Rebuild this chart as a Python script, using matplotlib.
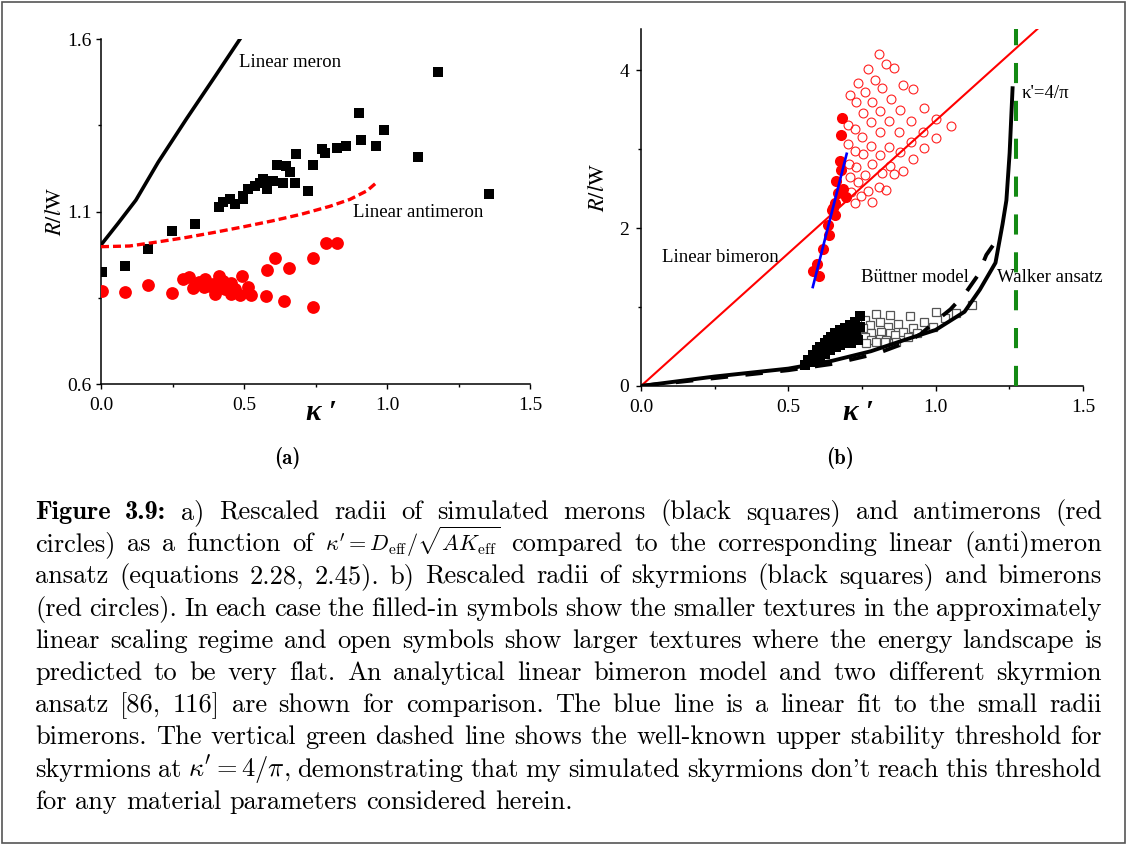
import matplotlib
matplotlib.use("Agg")
import matplotlib.pyplot as plt
from matplotlib.patches import Rectangle
from matplotlib.ticker import MultipleLocator, FixedLocator

plt.rcParams['font.family'] = ['Liberation Serif', 'DejaVu Serif']

W, H = 1126, 844

# ---- (a) merons (black squares) and antimerons (red circles) ----
meron_k = [0.002, 0.084, 0.165, 0.249, 0.329, 0.413, 0.426, 0.451, 0.469, 0.498,
           0.498, 0.515, 0.538, 0.556, 0.567, 0.579, 0.602, 0.616, 0.637, 0.647,
           0.661, 0.678, 0.681, 0.725, 0.742, 0.772, 0.783, 0.824, 0.857, 0.903,
           0.908, 0.960, 0.991, 1.107, 1.179, 1.357]
meron_r = [0.924, 0.943, 0.992, 1.043, 1.064, 1.114, 1.127, 1.135, 1.123, 1.144,
           1.135, 1.166, 1.173, 1.183, 1.195, 1.164, 1.188, 1.236, 1.183, 1.231,
           1.214, 1.183, 1.268, 1.159, 1.235, 1.282, 1.270, 1.285, 1.289, 1.386,
           1.306, 1.291, 1.335, 1.259, 1.504, 1.152]

antimeron_k = [0.005, 0.084, 0.165, 0.249, 0.286, 0.308, 0.323, 0.343, 0.364, 0.381,
               0.405, 0.414, 0.428, 0.434, 0.453, 0.453, 0.486, 0.494, 0.515, 0.523,
               0.576, 0.579, 0.608, 0.641, 0.658, 0.742, 0.740, 0.786, 0.824,
               0.360, 0.392, 0.420, 0.470, 0.398]
antimeron_r = [0.869, 0.868, 0.888, 0.864, 0.903, 0.910, 0.879, 0.895, 0.903, 0.883,
               0.874, 0.914, 0.898, 0.874, 0.893, 0.862, 0.859, 0.912, 0.882, 0.859,
               0.854, 0.929, 0.966, 0.842, 0.935, 0.966, 0.823, 1.009, 1.009,
               0.880, 0.890, 0.885, 0.875, 0.862]

lin_meron_k = [0.0, 0.06, 0.122, 0.2, 0.3, 0.4, 0.486]
lin_meron_r = [1.003, 1.066, 1.133, 1.243, 1.37, 1.493, 1.6]

lin_antimeron_k = [0.0, 0.1, 0.2, 0.3, 0.4, 0.5, 0.6, 0.7, 0.8, 0.87, 0.93, 0.965]
lin_antimeron_r = [0.998, 1.0, 1.012, 1.025, 1.04, 1.056, 1.073, 1.092, 1.115, 1.135, 1.16, 1.185]

a_yticks = [0.6, 1.1, 1.6]
a_yminor = [0.85, 1.35]

# ---- (b) skyrmions (squares) and bimerons (circles) ----
sk_small_k = [0.567, 0.584, 0.596, 0.607, 0.624, 0.635, 0.646, 0.658, 0.675, 0.692,
              0.708, 0.725, 0.742, 0.556, 0.579, 0.607, 0.624, 0.641, 0.635, 0.663,
              0.658, 0.680, 0.692, 0.714, 0.708, 0.731, 0.725, 0.742, 0.737, 0.714,
              0.697, 0.675]
sk_small_r = [0.33, 0.39, 0.46, 0.50, 0.54, 0.58, 0.62, 0.67, 0.71, 0.74,
              0.77, 0.81, 0.88, 0.27, 0.31, 0.37, 0.41, 0.46, 0.50, 0.50,
              0.56, 0.58, 0.63, 0.62, 0.69, 0.67, 0.73, 0.75, 0.58, 0.55,
              0.54, 0.52]

sk_large_k = [0.797, 0.846, 0.914, 1.002, 1.070, 0.759, 0.776, 0.810, 0.838, 0.872,
              0.923, 0.959, 0.991, 0.754, 0.782, 0.816, 0.844, 0.889, 0.935, 0.759,
              0.782, 0.810, 0.833, 0.861, 0.906, 0.765, 0.799, 0.827, 0.867, 1.031,
              1.124]
sk_large_r = [0.91, 0.90, 0.88, 0.94, 0.92, 0.84, 0.77, 0.81, 0.75, 0.78,
              0.74, 0.81, 0.75, 0.73, 0.67, 0.69, 0.67, 0.69, 0.67, 0.62,
              0.58, 0.60, 0.58, 0.65, 0.62, 0.54, 0.56, 0.56, 0.56, 0.86,
              1.03]

bim_small_k = [0.683, 0.678, 0.677, 0.680, 0.661, 0.686, 0.697, 0.658, 0.652, 0.648,
               0.658, 0.635, 0.638, 0.618, 0.596, 0.584, 0.604, 0.669]
bim_small_r = [3.39, 3.18, 2.85, 2.73, 2.59, 2.49, 2.39, 2.32, 2.25, 2.23,
               2.16, 2.04, 1.91, 1.73, 1.55, 1.45, 1.39, 2.44]

bim_large_k = [0.807, 0.831, 0.860, 0.769, 0.794, 0.737, 0.889, 0.923, 0.819, 0.708,
               0.759, 0.729, 0.784, 0.847, 0.754, 0.810, 0.878, 0.960, 0.703, 0.727,
               0.780, 0.842, 0.915, 1.002, 1.052, 0.810, 0.876, 0.957, 0.750, 0.703,
               0.780, 0.842, 0.915, 1.002, 0.725, 0.754, 0.811, 0.878, 0.959, 0.923,
               0.705, 0.731, 0.784, 0.846, 0.759, 0.819, 0.859, 0.889, 0.708, 0.737,
               0.807, 0.831, 0.771, 0.714, 0.748, 0.784, 0.725]
bim_large_r = [4.20, 4.08, 4.03, 4.01, 3.88, 3.83, 3.81, 3.76, 3.77, 3.68,
               3.72, 3.59, 3.60, 3.63, 3.46, 3.48, 3.50, 3.52, 3.30, 3.26,
               3.34, 3.35, 3.36, 3.38, 3.29, 3.22, 3.22, 3.22, 3.15, 3.07,
               3.04, 3.03, 3.09, 3.14, 2.97, 2.94, 2.92, 2.96, 3.01, 2.88,
               2.81, 2.77, 2.81, 2.79, 2.67, 2.70, 2.68, 2.72, 2.64, 2.58,
               2.52, 2.48, 2.47, 2.45, 2.40, 2.33, 2.32]

lin_bimeron_k = [0.0, 1.5]
lin_bimeron_r = [0.0, 5.04]

fit_k = [0.583, 0.698]
fit_r = [1.253, 2.94]

walker_k = [0.0, 0.25, 0.5, 0.65, 0.78, 0.9, 1.0, 1.098, 1.15, 1.203, 1.227, 1.24, 1.251, 1.261]
walker_r = [0.0, 0.12, 0.22, 0.32, 0.44, 0.59, 0.71, 0.94, 1.22, 1.56, 2.05, 2.35, 2.95, 3.77]

buttner_k = [0.0, 0.25, 0.5, 0.65, 0.8, 0.9, 0.95, 1.0, 1.05, 1.1, 1.143, 1.172, 1.2]
buttner_r = [0.0, 0.10, 0.20, 0.28, 0.41, 0.55, 0.66, 0.82, 0.97, 1.17, 1.40, 1.66, 1.81]

kappa_c = 4 / 3.141592653589793

fig = plt.figure(figsize=(W / 100, H / 100), dpi=100)


def style_axes(ax):
    for s in ('top', 'right'):
        ax.spines[s].set_visible(False)
    for s in ('left', 'bottom'):
        ax.spines[s].set_linewidth(1.1)
    ax.tick_params(which='major', direction='out', length=3.5, width=1.0, labelsize=14)
    ax.tick_params(which='minor', direction='out', length=2.2, width=1.0)
    ax.tick_params(axis='x', pad=6)
    ax.tick_params(axis='y', pad=3)


# panel (a)
ax1 = fig.add_axes([101 / W, 1 - 384 / H, 429 / W, 345 / H])
ax1.plot(meron_k, meron_r, 's', color='black', ms=7.2, mew=0, zorder=3)
ax1.plot(antimeron_k, antimeron_r, 'o', color='#ff0000', ms=9.2, mew=0, zorder=3)
ax1.plot(lin_meron_k, lin_meron_r, '-', color='black', lw=2.6, zorder=4)
ax1.plot(lin_antimeron_k, lin_antimeron_r, color='#ff0000', lw=2.4,
         dashes=(2.4, 1.2), zorder=4)
ax1.set_xlim(0, 1.5)
ax1.set_ylim(0.6, 1.6)
ax1.xaxis.set_major_locator(MultipleLocator(0.5))
ax1.xaxis.set_minor_locator(MultipleLocator(0.25))
ax1.yaxis.set_major_locator(FixedLocator(a_yticks))
ax1.yaxis.set_minor_locator(FixedLocator(a_yminor))
ax1.xaxis.set_major_formatter(lambda v, p: f"{v:.1f}")
ax1.yaxis.set_major_formatter(lambda v, p: f"{v:.1f}")
style_axes(ax1)
ax1.text(0.483, 1.532, "Linear meron", fontsize=13.5, va='center')
ax1.text(0.881, 1.097, "Linear antimeron", fontsize=13.5, va='center')
ax1.text(-0.105, 0.5, r"$R/l\mathrm{W}$", rotation=90, fontsize=16, math_fontfamily='stix',
         ha='center', va='center', transform=ax1.transAxes)
ax1.text(0.515, -0.084, "κ ′", fontsize=21, style='italic', fontweight='bold',
         ha='center', va='center', transform=ax1.transAxes)

# panel (b)
ax2 = fig.add_axes([641 / W, 1 - 386 / H, 442 / W, 357 / H])
ax2.plot(bim_large_k, bim_large_r, 'o', mfc='none', mec='#ff2020', mew=0.8, ms=6.4, zorder=2)
ax2.plot(bim_small_k, bim_small_r, 'o', color='#ff0000', mew=0, ms=8.0, zorder=3)
ax2.plot(sk_large_k, sk_large_r, 's', mfc='white', mec='#555555', mew=0.9, ms=6.0, zorder=2)
ax2.plot(sk_small_k, sk_small_r, 's', color='black', mew=0, ms=6.6, zorder=3)
ax2.plot(lin_bimeron_k, lin_bimeron_r, '-', color='#ff0000', lw=1.5, zorder=4)
ax2.plot(fit_k, fit_r, '-', color='#0000ff', lw=1.9, zorder=5)
ax2.plot(walker_k, walker_r, '-', color='black', lw=2.8, zorder=4)
ax2.plot(buttner_k, buttner_r, color='black', lw=2.8, dashes=(4.5, 4.5), zorder=4)
ax2.axvline(kappa_c, color='#138a13', lw=2.9, dashes=(5, 4.4), zorder=4)
ax2.set_xlim(0, 1.5)
ax2.set_ylim(0, 4.52)
ax2.xaxis.set_major_locator(MultipleLocator(0.5))
ax2.xaxis.set_minor_locator(MultipleLocator(0.25))
ax2.yaxis.set_major_locator(MultipleLocator(2))
ax2.yaxis.set_minor_locator(MultipleLocator(1))
ax2.xaxis.set_major_formatter(lambda v, p: f"{v:.1f}")
ax2.yaxis.set_major_formatter(lambda v, p: f"{v:.0f}")
style_axes(ax2)
ax2.tick_params(axis='y', pad=5)
ax2.text(0.071, 1.63, "Linear bimeron", fontsize=13.5, va='center')
ax2.text(0.746, 1.38, "Büttner model", fontsize=13.5, va='center')
ax2.text(1.207, 1.38, "Walker ansatz", fontsize=13.5, va='center')
ax2.text(1.293, 3.70, "κ'=4/π", fontsize=13.5, va='center')
ax2.text(-0.095, 0.557, r"$R/l\mathrm{W}$", rotation=90, fontsize=16, math_fontfamily='stix',
         ha='center', va='center', transform=ax2.transAxes)
ax2.text(0.491, -0.073, "κ ′", fontsize=21, style='italic', fontweight='bold',
         ha='center', va='center', transform=ax2.transAxes)

# panel letters
fig.text(287 / W, 1 - 458 / H, "(a)", family=['cmb10', 'DejaVu Serif'], fontsize=15,
         ha='center', va='center')
fig.text(840 / W, 1 - 458 / H, "(b)", family=['cmb10', 'DejaVu Serif'], fontsize=15,
         ha='center', va='center')

# caption, justified between two margins
caption = [
    "Figure 3.9: a) Rescaled radii of simulated merons (black squares) and antimerons (red",
    r"circles) as a function of $\kappa'=D_\mathrm{eff}/\sqrt{AK_\mathrm{eff}}$ compared to the corresponding linear (anti)meron",
    "ansatz (equations 2.28, 2.45). b) Rescaled radii of skyrmions (black squares) and bimerons",
    "(red circles). In each case the filled-in symbols show the smaller textures in the approximately",
    "linear scaling regime and open symbols show larger textures where the energy landscape is",
    "predicted to be very flat. An analytical linear bimeron model and two different skyrmion",
    "ansatz [86, 116] are shown for comparison. The blue line is a linear fit to the small radii",
    "bimerons. The vertical green dashed line shows the well-known upper stability threshold for",
    r"skyrmions at $\kappa'=4/\pi$, demonstrating that my simulated skyrmions don't reach this threshold",
    "for any material parameters considered herein.",
]
CAP_SIZE = 16
X0, X1 = 35, 1102
BASE0, STEP = 519, 32.2

renderer = fig.canvas.get_renderer()
rows = []
for i, line in enumerate(caption):
    y = 1 - (BASE0 + i * STEP) / H
    items = []
    for j, w in enumerate(line.split(' ')):
        fam = 'cmb10' if (i == 0 and j < 2) else 'cmr10'
        items.append(fig.text(0, y, w, fontsize=CAP_SIZE, family=[fam, 'DejaVu Serif'],
                              math_fontfamily='cm', va='baseline'))
    rows.append(items)


def word_widths(items):
    return [t.get_window_extent(renderer).width for t in items]


def is_root(t):
    return '\\sqrt' in t.get_text()


# grow the font until the widest line fits with slightly shrunk word spacing
space = 0.26 * CAP_SIZE * 100 / 72
widest = max(sum(word_widths(r)) + (len(r) - 1) * space for r in rows[:-1])
size = min(20, CAP_SIZE * (X1 - X0) / widest)
for r in rows:
    for t in r:
        # the radical sign is tall, keep it clear of the line above
        t.set_fontsize(size * 0.84 if is_root(t) else size)
space = 0.333 * size * 100 / 72

for i, items in enumerate(rows):
    widths = word_widths(items)
    if i == len(rows) - 1:
        gap = space
    else:
        gap = (X1 - X0 - sum(widths)) / (len(items) - 1)
    x = X0
    for t, wd in zip(items, widths):
        t.set_x(x / W)
        x += wd + gap

# frame around the whole figure
fig.patches.append(Rectangle((1.5 / W, 1.5 / H), 1 - 3 / W, 1 - 3 / H, transform=fig.transFigure,
                             fill=False, edgecolor='#555555', lw=1.2))

fig.savefig('out.png', dpi=100)
